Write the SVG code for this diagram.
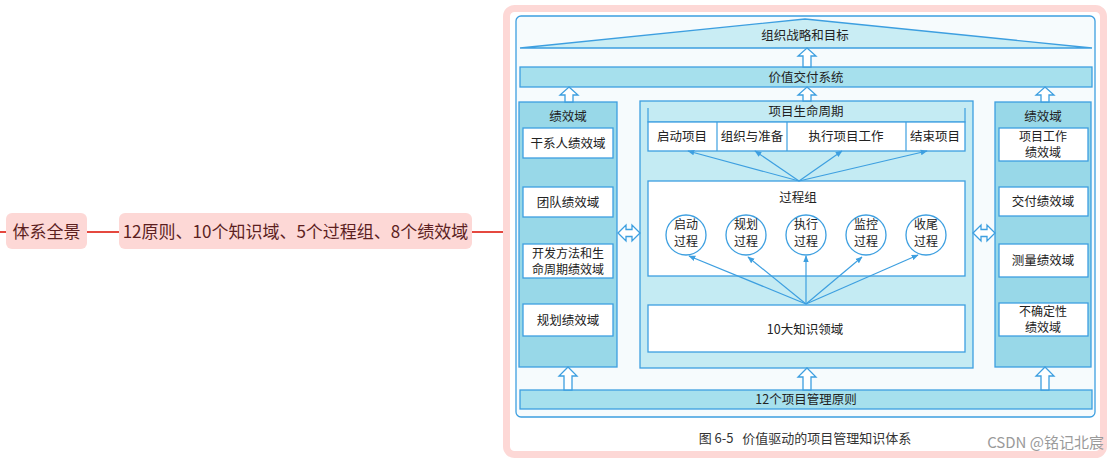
<svg xmlns="http://www.w3.org/2000/svg" width="1118" height="462" viewBox="0 0 1118 462">
<style>
.mm{fill:#fdd8d6;stroke:none}
.mmt{font-family:"Noto Sans CJK SC",sans-serif;font-size:17px;fill:#5c1f1f}
.mml{stroke:#e5483f;stroke-width:2;fill:none}
.col{fill:#98d8e8;stroke:#3d9fe0;stroke-width:1.3}
.bar{fill:#a6e0ed;stroke:#3d9fe0;stroke-width:1.3}
.mid{fill:#c4ebf3;stroke:#3d9fe0;stroke-width:1.3}
.wb{fill:#fff;stroke:#3d9fe0;stroke-width:1.3}
.t{font-family:"Noto Sans CJK SC",sans-serif;font-size:12.5px;fill:#222;text-anchor:middle}
.t2{font-family:"Noto Sans CJK SC",sans-serif;font-size:12px;fill:#222;text-anchor:middle}
.arr{fill:#fff;stroke:#3d9fe0;stroke-width:1.3}
.ln{stroke:#3d9fe0;stroke-width:1.2;fill:none;marker-end:url(#ah)}
</style>
<defs>
<marker id="ah" viewBox="0 0 10 10" refX="9" refY="5" markerWidth="7" markerHeight="7" orient="auto" markerUnits="userSpaceOnUse">
<path d="M0,1 L10,5 L0,9 Z" fill="#3d9fe0"/>
</marker>
</defs>
<rect width="1118" height="462" fill="#fff"/>
<g id="mm-lines">
<line class="mml" x1="0" y1="232" x2="6" y2="232"/>
<line class="mml" x1="87" y1="232" x2="119" y2="232"/>
<line class="mml" x1="472" y1="232" x2="505" y2="232"/>
</g>
<g id="node-root">
<rect class="mm" x="6" y="213" width="81" height="36" rx="6"/>
<text class="mmt" x="46.5" y="238" text-anchor="middle">体系全景</text>
</g>
<g id="node-summary">
<rect class="mm" x="119" y="213" width="353" height="36" rx="6"/>
<text class="mmt" x="295.5" y="238" text-anchor="middle">12原则、10个知识域、5个过程组、8个绩效域</text>
</g>
<g id="image-frame">
<rect x="506.5" y="8.5" width="597" height="446" rx="8" fill="#fff" stroke="#fdd8d6" stroke-width="7"/>
<rect x="516" y="16" width="579" height="401" rx="5" fill="#f6fbfd" stroke="#3d9fe0" stroke-width="1.3"/>
</g>
<g id="strategy">
<polygon points="520,48 805,19 1092,48" fill="#c9edf4" stroke="#3d9fe0" stroke-width="1.3"/>
<text class="t" x="805" y="40">组织战略和目标</text>
</g>
<g id="value-system">
<rect class="bar" x="520" y="67" width="572" height="20"/>
<text class="t" x="806" y="82">价值交付系统</text>
</g>
<g id="left-col">
<rect class="col" x="519" y="102" width="98" height="265"/>
<text class="t" x="568" y="121">绩效域</text>
<rect class="wb" x="523" y="128" width="90" height="30"/>
<text class="t" x="568" y="148">干系人绩效域</text>
<rect class="wb" x="523" y="187" width="90" height="30"/>
<text class="t" x="568" y="207">团队绩效域</text>
<rect class="wb" x="523" y="244" width="90" height="34"/>
<text class="t2" x="568" y="258">开发方法和生</text>
<text class="t2" x="568" y="274">命周期绩效域</text>
<rect class="wb" x="523" y="304" width="90" height="32"/>
<text class="t" x="568" y="325">规划绩效域</text>
</g>
<g id="mid-col">
<rect class="mid" x="640" y="101" width="333" height="267"/>
<text class="t" x="806" y="116">项目生命周期</text>
<polyline points="648,108 648,122 965,122 965,108" fill="none" stroke="#3d9fe0" stroke-width="1.2"/>
<rect class="wb" x="648" y="122" width="317" height="29"/>
<line x1="717" y1="122" x2="717" y2="151" stroke="#3d9fe0" stroke-width="1.2"/>
<line x1="787" y1="122" x2="787" y2="151" stroke="#3d9fe0" stroke-width="1.2"/>
<line x1="906" y1="122" x2="906" y2="151" stroke="#3d9fe0" stroke-width="1.2"/>
<text class="t" x="682" y="141">启动项目</text>
<text class="t" x="752" y="141">组织与准备</text>
<text class="t" x="846" y="141">执行项目工作</text>
<text class="t" x="935" y="141">结束项目</text>
<rect class="wb" x="648" y="181" width="317" height="95"/>
<text class="t" x="798" y="202">过程组</text>
<circle class="wb" cx="686" cy="235" r="20"/>
<text class="t2" x="686" y="229">启动</text><text class="t2" x="686" y="246">过程</text>
<circle class="wb" cx="746" cy="235" r="20"/>
<text class="t2" x="746" y="229">规划</text><text class="t2" x="746" y="246">过程</text>
<circle class="wb" cx="806" cy="235" r="20"/>
<text class="t2" x="806" y="229">执行</text><text class="t2" x="806" y="246">过程</text>
<circle class="wb" cx="866" cy="235" r="20"/>
<text class="t2" x="866" y="229">监控</text><text class="t2" x="866" y="246">过程</text>
<circle class="wb" cx="926" cy="235" r="20"/>
<text class="t2" x="926" y="229">收尾</text><text class="t2" x="926" y="246">过程</text>
<rect class="wb" x="648" y="305" width="317" height="47"/>
<text class="t" x="805" y="334">10大知识领域</text>
</g>
<g id="right-col">
<rect class="col" x="995" y="102" width="96" height="265"/>
<text class="t" x="1043" y="121">绩效域</text>
<rect class="wb" x="999" y="128" width="89" height="33"/>
<text class="t2" x="1043" y="141">项目工作</text>
<text class="t2" x="1043" y="157">绩效域</text>
<rect class="wb" x="999" y="187" width="89" height="29"/>
<text class="t" x="1043" y="206">交付绩效域</text>
<rect class="wb" x="999" y="244" width="89" height="33"/>
<text class="t" x="1043" y="265">测量绩效域</text>
<rect class="wb" x="999" y="303" width="89" height="33"/>
<text class="t2" x="1043" y="316">不确定性</text>
<text class="t2" x="1043" y="332">绩效域</text>
</g>
<g id="principles">
<rect class="bar" x="520" y="390" width="572" height="19"/>
<text class="t" x="806" y="404">12个项目管理原则</text>
</g>
<g id="connectors">
<path class="arr" d="M807,48 L816,56 L811,56 L811,67 L803,67 L803,56 L798,56 Z"/>
<path class="arr" d="M569,87 L578,95 L573,95 L573,102 L565,102 L565,95 L560,95 Z"/>
<path class="arr" d="M807,87 L816,95 L811,95 L811,101 L803,101 L803,95 L798,95 Z"/>
<path class="arr" d="M1045,87 L1054,95 L1049,95 L1049,102 L1041,102 L1041,95 L1036,95 Z"/>
<path class="arr" d="M568,367 L577,376 L572,376 L572,390 L564,390 L564,376 L559,376 Z"/>
<path class="arr" d="M807,368 L816,377 L811,377 L811,390 L803,390 L803,377 L798,377 Z"/>
<path class="arr" d="M1045,367 L1054,376 L1049,376 L1049,390 L1041,390 L1041,376 L1036,376 Z"/>
<path class="arr" d="M618,233 L626,225 L626,229.5 L632,229.5 L632,225 L640,233 L632,241 L632,236.5 L626,236.5 L626,241 Z"/>
<path class="arr" d="M973,233 L981,225 L981,229.5 L987,229.5 L987,225 L995,233 L987,241 L987,236.5 L981,236.5 L981,241 Z"/>
<line class="ln" x1="799" y1="181" x2="688" y2="151"/>
<line class="ln" x1="799" y1="181" x2="755" y2="151"/>
<line class="ln" x1="799" y1="181" x2="842" y2="151"/>
<line class="ln" x1="799" y1="181" x2="927" y2="151"/>
<line class="ln" x1="806" y1="304" x2="689" y2="256"/>
<line class="ln" x1="806" y1="304" x2="748" y2="257"/>
<line class="ln" x1="806" y1="304" x2="806" y2="256"/>
<line class="ln" x1="806" y1="304" x2="862" y2="257"/>
<line class="ln" x1="806" y1="304" x2="918" y2="255"/>
</g>
<g id="caption">
<text x="805" y="443" font-family="Noto Sans CJK SC,sans-serif" font-size="13" fill="#333" text-anchor="middle" xml:space="preserve">图 6-5   价值驱动的项目管理知识体系</text>
<text x="1104" y="448" font-family="Noto Sans CJK SC,sans-serif" font-size="15" fill="#9a9a9a" text-anchor="end">CSDN @铭记北宸</text>
</g>
</svg>
